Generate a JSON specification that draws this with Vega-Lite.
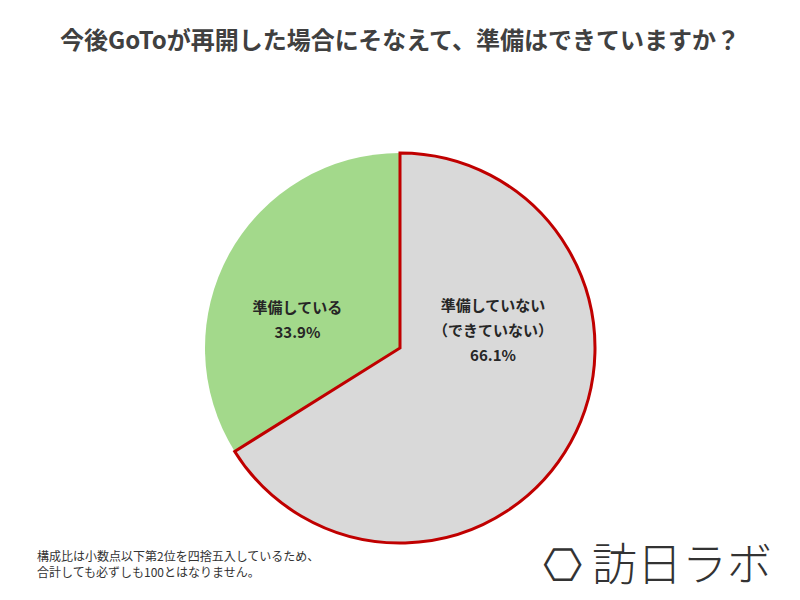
{
  "$schema": "https://vega.github.io/schema/vega-lite/v6.json",
  "padding": {"top": 30, "left": 0, "right": 0, "bottom": 30},
  "background": "white",
  "config": {
    "view": {"stroke": null},
    "concat": {"spacing": 0},
    "font": "Noto Sans CJK JP",
    "title": {"font": "Noto Sans CJK JP"}
  },
  "data": {
    "values": [
      {"answer": "準備していない", "label": ["準備していない", "（できていない）"], "value": 0.661},
      {"answer": "準備している", "label": ["準備している"], "value": 0.339}
    ]
  },
  "title": {
    "text": "⎔  訪日ラボ",
    "orient": "bottom",
    "anchor": "end",
    "fontSize": 45,
    "fontWeight": 300,
    "color": "#333333",
    "dx": -28,
    "dy": -38
  },
  "vconcat": [
    {
      "title": {
        "text": ["構成比は小数点以下第2位を四捨五入しているため、", "合計しても必ずしも100とはなりません。"],
        "orient": "bottom",
        "anchor": "start",
        "fontSize": 12,
        "fontWeight": "normal",
        "lineHeight": 16,
        "color": "#333333",
        "dx": 37,
        "offset": 3
      },
      "vconcat": [
        {
          "title": {
            "text": "今後GoToが再開した場合にそなえて、準備はできていますか？",
            "anchor": "middle",
            "fontSize": 24,
            "fontWeight": "bold",
            "color": "#404040",
            "offset": 93
          },
          "width": 800,
          "height": 390,
          "layer": [
            {
              "mark": {"type": "arc"},
              "encoding": {
                "theta": {"field": "value", "type": "quantitative", "stack": true},
                "order": {"field": "value", "type": "quantitative", "sort": "descending"},
                "color": {
                  "field": "answer", "type": "nominal",
                  "scale": {"domain": ["準備していない", "準備している"], "range": ["#d9d9d9", "#a3d98b"]},
                  "legend": null
                }
              }
            },
            {
              "mark": {"type": "arc", "fillOpacity": 0, "strokeWidth": 3, "strokeJoin": "miter"},
              "encoding": {
                "theta": {"field": "value", "type": "quantitative", "stack": true},
                "order": {"field": "value", "type": "quantitative", "sort": "descending"},
                "stroke": {
                  "field": "answer", "type": "nominal",
                  "scale": {"domain": ["準備していない", "準備している"], "range": ["#c00000", "transparent"]},
                  "legend": null
                }
              }
            },
            {
              "mark": {"type": "text", "radius": 107, "fontSize": 15, "fontWeight": "bold", "color": "#262626", "baseline": "middle", "dx": -9, "dy": 12},
              "encoding": {
                "theta": {"field": "value", "type": "quantitative", "stack": true},
                "order": {"field": "value", "type": "quantitative", "sort": "descending"},
                "text": {"condition": {"test": "datum.answer === '準備している'", "field": "label"}, "value": ""}
              }
            },
            {
              "mark": {"type": "text", "radius": 107, "fontSize": 15, "fontWeight": "bold", "color": "#262626", "baseline": "middle", "dx": -9, "dy": 37},
              "encoding": {
                "theta": {"field": "value", "type": "quantitative", "stack": true},
                "order": {"field": "value", "type": "quantitative", "sort": "descending"},
                "text": {"condition": {"test": "datum.answer === '準備している'", "field": "value", "format": ".1%"}, "value": ""}
              }
            },
            {
              "mark": {"type": "text", "radius": 0, "fontSize": 15, "fontWeight": "bold", "color": "#262626", "baseline": "middle", "lineHeight": 25, "dx": 93, "dy": -42},
              "encoding": {
                "theta": {"field": "value", "type": "quantitative", "stack": true},
                "order": {"field": "value", "type": "quantitative", "sort": "descending"},
                "text": {"condition": {"test": "datum.answer === '準備していない'", "field": "label"}, "value": ""}
              }
            },
            {
              "mark": {"type": "text", "radius": 0, "fontSize": 15, "fontWeight": "bold", "color": "#262626", "baseline": "middle", "dx": 93, "dy": 8},
              "encoding": {
                "theta": {"field": "value", "type": "quantitative", "stack": true},
                "order": {"field": "value", "type": "quantitative", "sort": "descending"},
                "text": {"condition": {"test": "datum.answer === '準備していない'", "field": "value", "format": ".1%"}, "value": ""}
              }
            }
          ]
        }
      ]
    }
  ]
}
